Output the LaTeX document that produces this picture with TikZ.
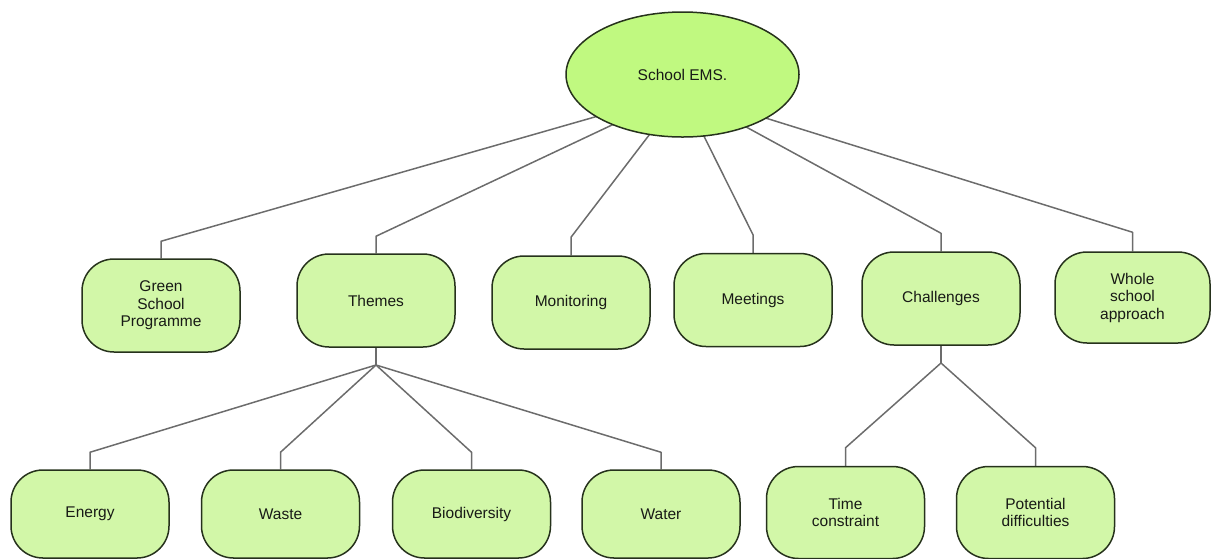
\documentclass[tikz,border=0pt]{standalone}
\usepackage{fontspec}
\setmainfont{Liberation Sans}
\usetikzlibrary{shapes.geometric,backgrounds}
\definecolor{boxfill}{RGB}{210,247,168}
\definecolor{rootfill}{RGB}{192,249,128}
\definecolor{edgeline}{RGB}{38,50,28}
\definecolor{linkgray}{RGB}{108,108,108}
\definecolor{labeltext}{RGB}{24,26,22}
\begin{document}
\begin{tikzpicture}[x=1pt,y=-1pt,
  topic/.style={draw=edgeline, fill=boxfill, line width=1.5pt,
    rounded corners=32pt, minimum width=158pt, minimum height=93pt,
    inner sep=0pt, align=center, text=labeltext,
    font=\fontsize{15.5}{17.5}\selectfont},
  leaf/.style={topic, minimum height=88pt},
  rootnode/.style={ellipse, draw=edgeline, fill=rootfill, line width=1.5pt,
    minimum width=233pt, minimum height=125pt, inner sep=0pt,
    text=labeltext, font=\fontsize{15.5}{17.5}\selectfont},
  link/.style={draw=linkgray, line width=1.5pt, line join=round}]
\useasboundingbox (0,0) rectangle (1212,558);

% root
\node[rootnode] (ems) at (682.5,74.5) {School EMS.};
\coordinate (emshub) at (682,92);

% first level
\node[topic] (gsp)   at (161,305.5)  {Green\\School\\Programme};
\node[topic] (themes) at (376,300.5) {Themes};
\node[topic] (monit) at (571,302.5)  {Monitoring};
\node[topic] (meet)  at (753,300)    {Meetings};
\node[topic] (chall) at (941,298.5)  {Challenges};
\node[topic, minimum width=155pt, minimum height=91pt] (whole) at (1132.5,297.5) {Whole\\school\\approach};

% second level under Themes
\node[leaf] (energy) at (90,514)    {Energy};
\node[leaf] (waste)  at (280.5,514) {Waste};
\node[leaf] (bio)    at (471.5,514) {Biodiversity};
\node[leaf] (water)  at (661,514)   {Water};

% second level under Challenges
\node[leaf, minimum height=92pt] (timec) at (845.5,512.5)  {Time\\constraint};
\node[leaf, minimum height=92pt] (potd)  at (1035.5,512.5) {Potential\\difficulties};

\coordinate (thub) at (376,365);
\coordinate (chub) at (941,363);

\begin{scope}[on background layer]
  \draw[link] (gsp.north)    -- ++(0,-17) -- (emshub);
  \draw[link] (themes.north) -- ++(0,-17) -- (emshub);
  \draw[link] (monit.north)  -- ++(0,-18) -- (emshub);
  \draw[link] (meet.north)   -- ++(0,-18) -- (emshub);
  \draw[link] (chall.north)  -- ++(0,-18) -- (emshub);
  \draw[link] (whole.north)  -- ++(0,-19) -- (emshub);

  \draw[link] (themes.south) -- (thub);
  \draw[link] (energy.north) -- ++(0,-17) -- (thub);
  \draw[link] (waste.north)  -- ++(0,-17) -- (thub);
  \draw[link] (bio.north)    -- ++(0,-17) -- (thub);
  \draw[link] (water.north)  -- ++(0,-17) -- (thub);

  \draw[link] (chall.south) -- (chub);
  \draw[link] (timec.north) -- ++(0,-18) -- (chub);
  \draw[link] (potd.north)  -- ++(0,-18) -- (chub);
\end{scope}
\end{tikzpicture}
\end{document}
